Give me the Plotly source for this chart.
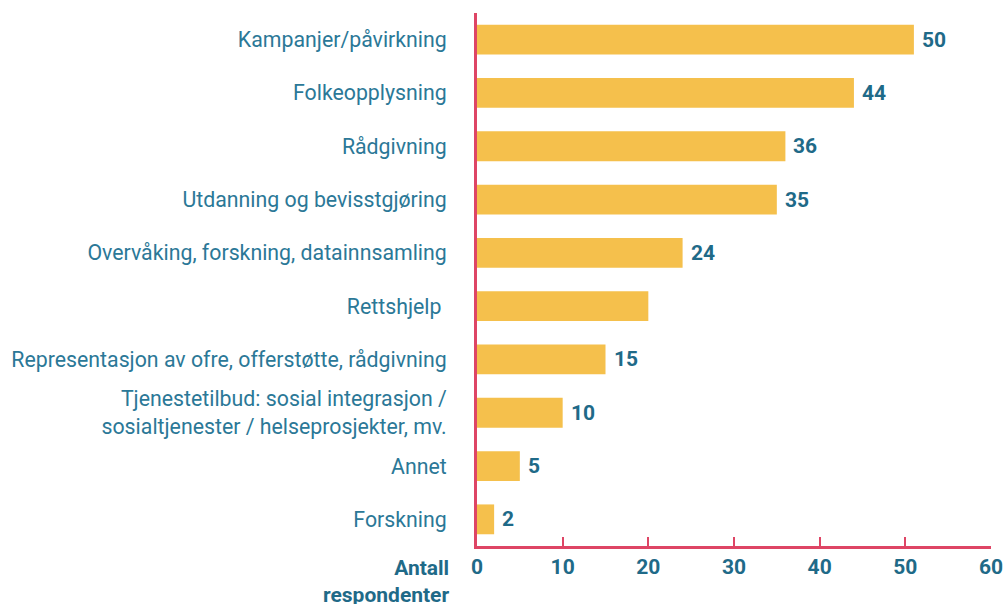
import plotly.graph_objects as go

categories = [
    "Kampanjer/påvirkning",
    "Folkeopplysning",
    "Rådgivning",
    "Utdanning og bevisstgjøring",
    "Overvåking, forskning, datainnsamling",
    "Rettshjelp ",
    "Representasjon av ofre, offerstøtte, rådgivning",
    "Tjenestetilbud: sosial integrasjon /<br>sosialtjenester / helseprosjekter, mv.",
    "Annet",
    "Forskning",
]
values = [51, 44, 36, 35, 24, 20, 15, 10, 5, 2]
value_labels = ["50", "44", "36", "35", "24", "", "15", "10", "5", "2"]
x_ticks = [0, 10, 20, 30, 40, 50, 60]
axis_title = "Antall<br>respondenter"

BAR = "#F5C04C"
RED = "#DE4565"
TEAL = "#2B7897"
DARK = "#1F6A88"
FONT = "Roboto"

fig = go.Figure()
fig.add_trace(go.Bar(
    x=values, y=categories, orientation="h",
    marker=dict(color=BAR, line=dict(width=0)),
    width=0.56, hoverinfo="skip",
))

for c, v, t in zip(categories, values, value_labels):
    if t:
        fig.add_annotation(x=v, y=c, text=t, showarrow=False, xanchor="left",
                           xshift=6, font=dict(family=FONT, size=21, color=DARK, weight="bold"))

fig.add_annotation(xref="paper", yref="paper", x=-0.051, y=-0.015, text=axis_title,
                   showarrow=False, xanchor="right", yanchor="top", align="right",
                   font=dict(family=FONT, size=21, color=DARK, weight="bold"))

fig.update_layout(
    width=1005, height=604,
    margin=dict(l=477, r=14, t=13, b=58, autoexpand=False),
    plot_bgcolor="white", paper_bgcolor="white",
    showlegend=False,
    font=dict(family=FONT),
    xaxis=dict(
        range=[0, 60], tickvals=x_ticks, showgrid=False, zeroline=False,
        showline=True, linecolor=RED, linewidth=3,
        ticks="inside", ticklen=9, tickwidth=2, tickcolor=RED,
        tickfont=dict(family=FONT, size=21, color=DARK, weight="bold"),
        fixedrange=True, automargin=False,
    ),
    yaxis=dict(
        categoryorder="array", categoryarray=categories, autorange="reversed",
        showgrid=False, zeroline=False,
        showline=True, linecolor=RED, linewidth=3, ticks="",
        ticklabelstandoff=23,
        tickfont=dict(family=FONT, size=21.3, color=TEAL),
        fixedrange=True, automargin=False,
    ),
)

fig.write_html("out.html", config={"displayModeBar": False, "responsive": False},
               post_script="document.body.style.margin='0';document.body.style.overflow='hidden';")
